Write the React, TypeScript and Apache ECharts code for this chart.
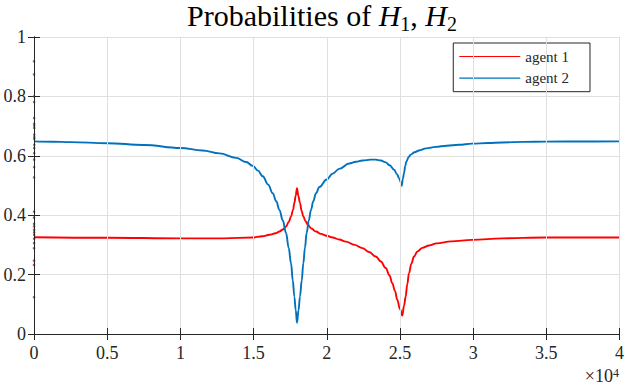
import React, { useEffect, useRef } from "react";
import * as echarts from "echarts";

// Agent 2 (blue)
const blueX = [0, 1250, 2500, 5000, 7500, 10000, 11500, 12677, 13813, 14500, 14950, 15300, 15627, 16000,
  16308, 16550, 16765, 17000, 17220, 17400, 17560, 17680, 17787, 17880, 17968, 18070, 18172, 18290, 18400,
  18510, 18625, 18770, 18923, 19080, 19264, 19500, 20000, 20400, 20850, 21533, 22000, 22440, 23000, 23350,
  23700, 24030, 24300, 24600, 24800, 24940, 25050, 25120, 25200, 25280, 25360, 25440, 25600, 25740, 26000,
  26300, 26800, 27440, 28200, 29030, 29930, 31000, 32000, 33500, 34930, 37500, 40000];
const blueY = [0.6486, 0.6475, 0.646, 0.6425, 0.6365, 0.6265, 0.618, 0.608, 0.593, 0.579, 0.566, 0.55, 0.531, 0.503,
  0.474, 0.447, 0.418, 0.382, 0.34, 0.29, 0.238, 0.18, 0.126, 0.08, 0.038, 0.08, 0.126, 0.18, 0.238,
  0.29, 0.34, 0.382, 0.418, 0.447, 0.474, 0.495, 0.52, 0.54, 0.556, 0.574, 0.58, 0.584, 0.587, 0.587,
  0.584, 0.578, 0.568, 0.553, 0.538, 0.525, 0.512, 0.499, 0.522, 0.542, 0.565, 0.581, 0.596, 0.604, 0.612,
  0.618, 0.625, 0.63, 0.634, 0.637, 0.641, 0.643, 0.645, 0.647, 0.6476, 0.6483, 0.6486];
// Agent 2 start-up transient samples (first iterations, at x≈0)
const blueStartX = [0, 1, 2, 3, 4, 5, 6, 7, 8, 9, 10, 11, 12, 13, 14, 15, 16, 17, 18];
const blueStartY = [0.918, 0.124, 0.874, 0.412, 0.8, 0.527, 0.781, 0.562, 0.727, 0.587, 0.708, 0.609, 0.702, 0.626, 0.694, 0.637, 0.671, 0.657, 0.663];

// Agent 1 (red)
const redX = [0, 5000, 10000, 13000, 14950, 15600, 16083, 16500, 16765, 17000, 17220, 17400, 17560, 17700,
  17787, 17880, 17968, 18060, 18172, 18280, 18400, 18550, 18700, 18950, 19264, 19600, 20000, 20400, 20850,
  21310, 21900, 22440, 22900, 23350, 23700, 24030, 24280, 24480, 24660, 24820, 25000, 25160, 25280, 25390,
  25500, 25620, 25780, 25960, 26200, 26530, 27000, 27500, 28500, 29930, 32000, 34930, 40000];
const redY = [0.326, 0.324, 0.322, 0.322, 0.325, 0.329, 0.334, 0.339, 0.345, 0.352, 0.362, 0.377, 0.396, 0.418,
  0.441, 0.466, 0.491, 0.465, 0.441, 0.415, 0.396, 0.38, 0.368, 0.355, 0.345, 0.337, 0.331, 0.325, 0.318,
  0.311, 0.3, 0.289, 0.276, 0.261, 0.244, 0.222, 0.198, 0.171, 0.145, 0.115, 0.085, 0.062, 0.095, 0.126,
  0.168, 0.205, 0.237, 0.261, 0.278, 0.29, 0.298, 0.305, 0.312, 0.317, 0.322, 0.325, 0.325];
const redStartX = [0, 1, 2, 3, 4, 5, 6, 7, 8, 9, 10];
const redStartY = [0.233, 0.392, 0.247, 0.371, 0.289, 0.362, 0.306, 0.351, 0.321, 0.342, 0.334];

const seriesNames = ["agent 1", "agent 2"];
const xTicks = [0, 5000, 10000, 15000, 20000, 25000, 30000, 35000, 40000];
const yTicks = [0, 0.2, 0.4, 0.6, 0.8, 1];

const FONT = "Liberation Serif";
const AX = "#262626";
const RED = "#ff0000";
const BLUE = "#0072bd";

export default function App() {
  const ref = useRef<HTMLDivElement>(null);
  useEffect(() => {
    if (!ref.current) return;
    const chart = echarts.init(ref.current, null, { renderer: "svg" });
    const gridLeft = 34, gridTop = 37, gridW = 587, gridH = 297;
    const tickLabel = { fontFamily: FONT, fontSize: 18, color: AX };
    const common = {
      type: "value" as const,
      axisLine: { show: true, lineStyle: { color: AX, width: 1 } },
      axisTick: { show: true, inside: true, length: 6, lineStyle: { color: AX } },
    };
    const grid = { color: "#dfdfdf", width: 1 };
    chart.setOption({
      animation: false,
      backgroundColor: "#fff",
      grid: { left: gridLeft, top: gridTop, width: gridW, height: gridH },
      xAxis: [
        {
          ...common, position: "bottom",
          min: xTicks[0], max: xTicks[xTicks.length - 1], interval: 5000,
          axisLabel: { ...tickLabel, margin: 10, formatter: (v: number) => String(v / 10000) },
          splitLine: { show: true, lineStyle: grid },
          z: 5,
        },
        {
          ...common, position: "top",
          min: xTicks[0], max: xTicks[xTicks.length - 1], interval: 5000,
          axisLabel: { show: false }, splitLine: { show: false },
        },
      ],
      yAxis: [
        {
          ...common, position: "left",
          min: yTicks[0], max: yTicks[yTicks.length - 1], interval: 0.2,
          axisLabel: { ...tickLabel, margin: 8, formatter: (v: number) => String(Math.round(v * 10) / 10) },
          splitLine: { show: false },
          z: 5,
        },
        {
          ...common, position: "right",
          min: yTicks[0], max: yTicks[yTicks.length - 1], interval: 0.2,
          axisLabel: { show: false },
          splitLine: { show: true, lineStyle: grid },
        },
      ],
      legend: {
        orient: "vertical",
        right: 37, top: 43,
        padding: [6, 21, 6, 6],
        icon: "rect",
        itemWidth: 61, itemHeight: 1.2, itemGap: 6.7,
        backgroundColor: "#fff",
        borderColor: AX, borderWidth: 1,
        textStyle: { fontFamily: FONT, fontSize: 15, color: AX, lineHeight: 15 },
        data: seriesNames,
      },
      series: [
        {
          name: seriesNames[0], type: "line", symbol: "none", xAxisIndex: 0, yAxisIndex: 0,
          smooth: 0.4, smoothMonotone: "x",
          lineStyle: { color: RED, width: 1.9 }, itemStyle: { color: RED },
          data: redX.map((x, i) => [x, redY[i]]),
        },
        {
          name: seriesNames[1], type: "line", symbol: "none", xAxisIndex: 0, yAxisIndex: 0,
          smooth: 0.4, smoothMonotone: "x",
          lineStyle: { color: BLUE, width: 1.9 }, itemStyle: { color: BLUE },
          data: blueX.map((x, i) => [x, blueY[i]]),
        },
        {
          name: "agent 1 start", type: "scatter", symbolSize: 2.6, clip: false,
          itemStyle: { color: RED },
          data: redStartX.map((x, i) => [x, redStartY[i]]),
        },
        {
          name: "agent 2 start", type: "scatter", symbolSize: 2.6, clip: false,
          itemStyle: { color: BLUE },
          data: blueStartX.map((x, i) => [x, blueStartY[i]]),
        },
      ],
      graphic: [
        {
          type: "text", left: 187, top: 0,
          style: {
            text: "{a|Probabilities of }{i|H}{s|1}{a|, }{i|H}{s|2}",
            fontFamily: FONT,
            fill: "#000",
            rich: {
              a: { fontFamily: FONT, fontSize: 30, lineHeight: 32, verticalAlign: "top", fill: "#000" },
              i: { fontFamily: FONT, fontSize: 30, fontStyle: "italic", lineHeight: 32, verticalAlign: "top", fill: "#000" },
              s: { fontFamily: FONT, fontSize: 20, lineHeight: 20, verticalAlign: "top", padding: [14, 0, 0, 0], fill: "#000" },
            },
          },
        },
        {
          type: "text", right: 8, top: 367,
          style: {
            text: "{a|×10}{b|4}",
            fontFamily: FONT,
            rich: {
              a: { fontFamily: FONT, fontSize: 18, lineHeight: 18, verticalAlign: "bottom", fill: AX },
              b: { fontFamily: FONT, fontSize: 12, lineHeight: 8, verticalAlign: "top", fill: AX },
            },
          },
        },
      ],
    });
    return () => chart.dispose();
  }, []);
  return (
    <div
      ref={ref}
      style={{ position: "fixed", left: 0, top: 0, width: 627, height: 386 }}
    />
  );
}
